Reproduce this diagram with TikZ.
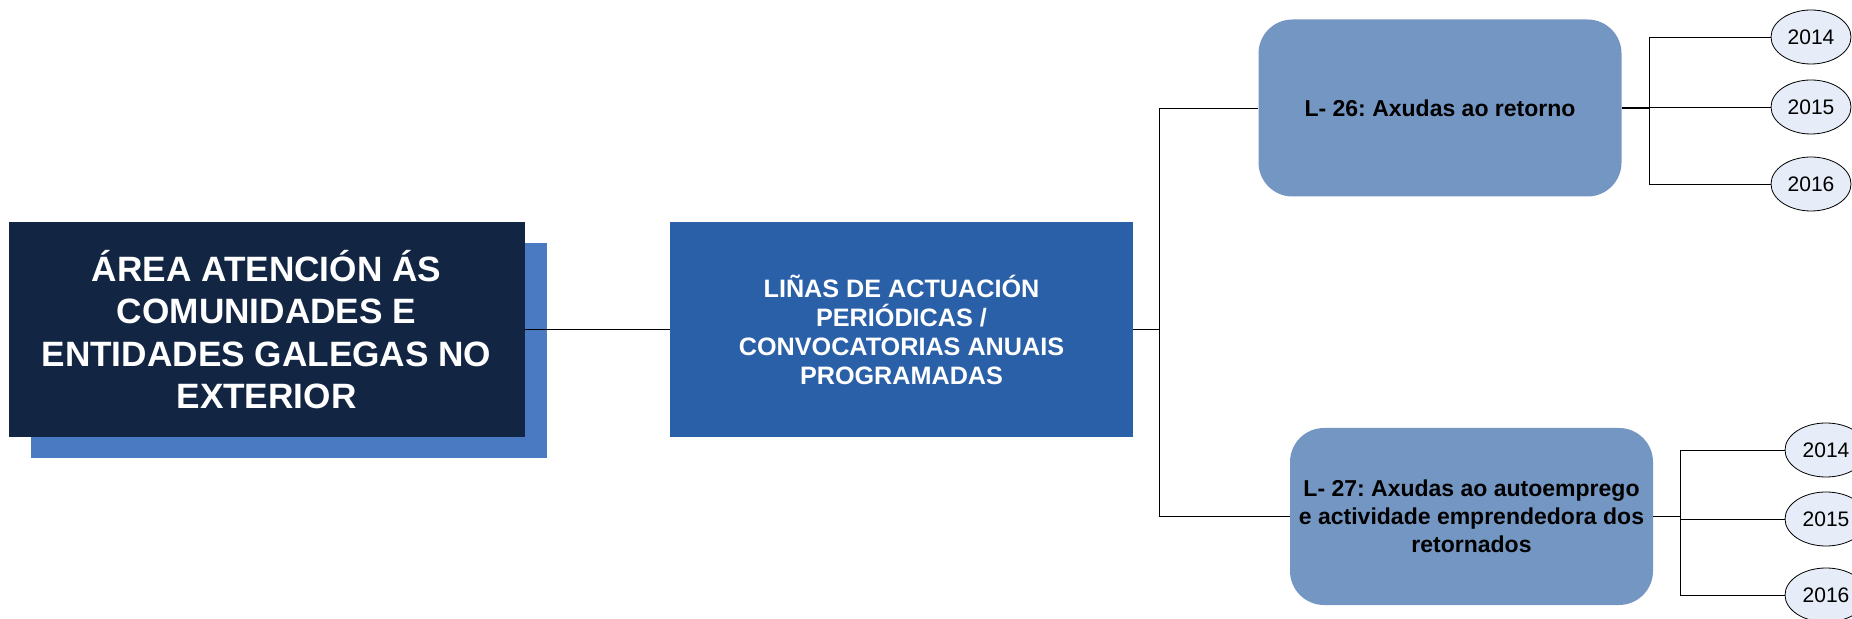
\documentclass[tikz,border=0pt]{standalone}
\usepackage{fontspec}
\setmainfont{Liberation Sans}
\frenchspacing
\usetikzlibrary{shapes.geometric,shadows}
\definecolor{areanavy}{RGB}{18,38,68}
\definecolor{areashadow}{RGB}{74,122,194}
\definecolor{linasblue}{RGB}{42,96,168}
\definecolor{lineablue}{RGB}{116,150,194}
\definecolor{yearfill}{RGB}{230,237,248}

\begin{document}
\begin{tikzpicture}[x=0.5pt,y=-0.5pt,
  areabox/.style={fill=areanavy,text=white,align=center,inner sep=0pt,
    minimum width=258pt,minimum height=107.5pt,
    font=\fontsize{17.6}{21.25}\selectfont\bfseries,
    drop shadow={shadow xshift=11pt,shadow yshift=-10.75pt,fill=areashadow,opacity=1}},
  linasbox/.style={fill=linasblue,text=white,align=center,inner sep=0pt,
    minimum width=231.5pt,minimum height=107.5pt,
    font=\fontsize{12.6}{14.5}\selectfont\bfseries},
  lineabox/.style={fill=lineablue,rounded corners=17pt,align=center,inner sep=0pt,
    minimum width=181.5pt,minimum height=88.5pt,
    font=\fontsize{11.5}{14}\selectfont\bfseries},
  yearnode/.style={ellipse,draw=black,fill=yearfill,inner sep=0pt,
    minimum width=40pt,minimum height=27pt,font=\fontsize{10.5}{12}\selectfont},
  stub/.style={line width=0.8pt}]
  \useasboundingbox (0,0) rectangle (1852,619);

  \node[areabox] (area) at (266.5,329.5) {ÁREA ATENCIÓN ÁS\\COMUNIDADES E\\ENTIDADES GALEGAS NO\\EXTERIOR};
  \node[linasbox] (linas) at (901.5,329.5) {LIÑAS DE ACTUACIÓN\\PERIÓDICAS /\\CONVOCATORIAS ANUAIS\\PROGRAMADAS};
  \node[lineabox] (l26) at (1440,108) {L- 26: Axudas ao retorno};
  \node[lineabox] (l27) at (1471.5,516.5) {L- 27: Axudas ao autoemprego\\e actividade emprendedora dos\\retornados};

  % anos de cada liña
  \node[yearnode] (a14) at (1811,37) {2014};
  \node[yearnode] (a15) at (1811,107) {2015};
  \node[yearnode] (a16) at (1811,184) {2016};
  \node[yearnode,minimum width=41pt] (b14) at (1826,450) {2014};
  \node[yearnode,minimum width=41pt] (b15) at (1826,519) {2015};
  \node[yearnode,minimum width=41pt] (b16) at (1826,595) {2016};

  \coordinate (t0) at (1159,329.5);
  \coordinate (t1) at (1649,108);
  \coordinate (t2) at (1680,516.5);

  \draw (area)--(linas);
  \draw (linas)--(t0);
  \draw (t0)|-(l26);
  \draw (t0)|-(l27);
  \draw[stub] (l26)--(t1);
  \draw[stub] (l27)--(t2);
  \foreach \y in {a14,a15,a16} \draw (t1)|-(\y);
  \foreach \y in {b14,b15,b16} \draw (t2)|-(\y);
\end{tikzpicture}
\end{document}
